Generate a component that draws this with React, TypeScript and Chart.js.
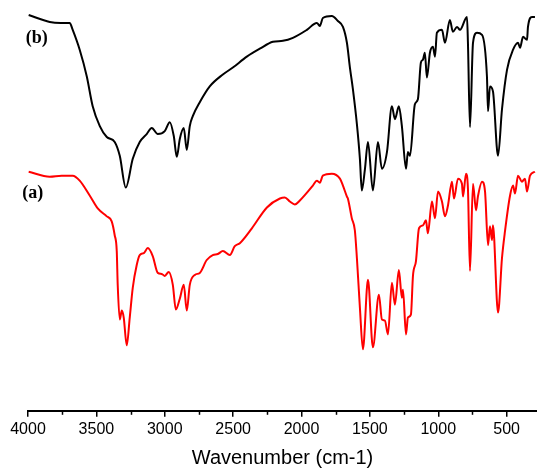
import React, { useEffect, useRef } from "react";
import { Chart, registerables } from "chart.js";

Chart.register(...registerables);

// Spectrum (b) — black
const wavenumbersB = [3995, 3841, 3761, 3695, 3673, 3622, 3570, 3527, 3475, 3424, 3366, 3329, 3285, 3234, 3183, 3132, 3095, 3051, 3000, 2963, 2934, 2912, 2890, 2861, 2839, 2817, 2795, 2744, 2671, 2575, 2502, 2400, 2305, 2209, 2136, 2063, 1961, 1888, 1866, 1844, 1778, 1734, 1697, 1668, 1646, 1624, 1595, 1573, 1559, 1536, 1514, 1478, 1441, 1412, 1375, 1339, 1317, 1288, 1266, 1236, 1222, 1207, 1171, 1149, 1127, 1112, 1098, 1083, 1061, 1039, 1024, 1010, 973, 951, 915, 893, 863, 841, 790, 783, 768, 746, 717, 680, 644, 636, 622, 600, 563, 534, 497, 453, 417, 402, 380, 351, 344, 315, 293];
const transB = [399, 392, 391, 391, 384, 364, 337, 307, 287, 276, 271, 257, 225, 254, 271, 279, 285, 279, 282, 291, 277, 256, 274, 285, 263, 287, 297, 311, 327, 339, 346, 357, 365, 372, 373, 376, 384, 391, 388, 396, 398, 393, 387, 371, 346, 324, 289, 254, 222, 244, 271, 222, 271, 244, 261, 307, 294, 307, 287, 244, 261, 257, 309, 314, 351, 354, 361, 336, 361, 367, 357, 381, 384, 371, 394, 382, 387, 384, 397, 371, 286, 371, 381, 379, 337, 302, 327, 322, 257, 304, 344, 364, 371, 366, 377, 374, 387, 397, 397];

// Spectrum (a) — red
const wavenumbersA = [3995, 3841, 3754, 3673, 3622, 3549, 3490, 3424, 3388, 3366, 3351, 3344, 3329, 3314, 3300, 3278, 3256, 3234, 3205, 3183, 3153, 3124, 3088, 3051, 3022, 3000, 2971, 2941, 2919, 2890, 2861, 2839, 2817, 2780, 2744, 2693, 2649, 2612, 2575, 2524, 2488, 2451, 2363, 2253, 2158, 2122, 2085, 2049, 2012, 1917, 1888, 1866, 1844, 1778, 1719, 1697, 1668, 1661, 1632, 1610, 1595, 1573, 1551, 1514, 1478, 1434, 1412, 1390, 1368, 1339, 1317, 1288, 1266, 1258, 1236, 1222, 1200, 1185, 1163, 1141, 1112, 1090, 1076, 1046, 1024, 1002, 973, 951, 929, 900, 885, 856, 827, 819, 797, 783, 768, 746, 724, 710, 680, 658, 636, 622, 607, 600, 563, 534, 512, 475, 453, 439, 417, 388, 366, 351, 329, 293];
const transA = [241, 236, 237, 237, 232, 217, 204, 196, 191, 177, 161, 127, 92, 101, 94, 66, 94, 124, 147, 157, 159, 164, 156, 139, 138, 136, 140, 127, 102, 113, 127, 101, 127, 137, 139, 152, 157, 158, 161, 157, 166, 169, 184, 205, 214, 215, 211, 208, 212, 227, 232, 230, 237, 239, 234, 227, 216, 214, 194, 182, 154, 104, 62, 132, 64, 117, 92, 91, 77, 129, 107, 142, 114, 122, 77, 94, 97, 136, 151, 184, 187, 192, 179, 211, 194, 221, 211, 196, 207, 231, 214, 234, 229, 216, 239, 224, 141, 229, 202, 216, 231, 221, 167, 186, 172, 187, 99, 154, 181, 217, 227, 219, 237, 231, 234, 221, 237, 241];

const majorTicks = [4000, 3500, 3000, 2500, 2000, 1500, 1000, 500];
const minorTicks = [3750, 3250, 2750, 2250, 1750, 1250, 750];

const curveLabels = ["(b)", "(a)"];
const curveLabelX = [3936, 3966];
const curveLabelY = [375, 219];

const xTitle = "Wavenumber (cm-1)";

export default function App() {
  const ref = useRef<HTMLCanvasElement | null>(null);

  useEffect(() => {
    if (!ref.current) return;
    const minorPlugin = {
      id: "minorTicksAndLabels",
      afterDraw(chart: any) {
        const ctx = chart.ctx;
        const xs = chart.scales.x;
        const ys = chart.scales.y;
        const bottom = chart.chartArea.bottom;
        ctx.save();
        ctx.strokeStyle = "#000";
        ctx.lineWidth = 1.5;
        minorTicks.forEach((v) => {
          const px = Math.round(xs.getPixelForValue(v)) + 0.5;
          ctx.beginPath();
          ctx.moveTo(px, bottom);
          ctx.lineTo(px, bottom + 4);
          ctx.stroke();
        });
        ctx.fillStyle = "#000";
        ctx.font = "bold 18px 'Liberation Serif', 'Times New Roman', serif";
        ctx.textAlign = "center";
        ctx.textBaseline = "middle";
        curveLabels.forEach((t, i) => {
          ctx.fillText(t, xs.getPixelForValue(curveLabelX[i]), ys.getPixelForValue(curveLabelY[i]));
        });
        ctx.restore();
      },
    };

    const chart = new Chart(ref.current, {
      type: "line",
      data: {
        datasets: [
          {
            label: "(b)",
            data: wavenumbersB.map((w, i) => ({ x: w, y: transB[i] })),
            borderColor: "#000000",
            borderWidth: 2,
            pointRadius: 0,
            cubicInterpolationMode: "monotone",
            fill: false,
          },
          {
            label: "(a)",
            data: wavenumbersA.map((w, i) => ({ x: w, y: transA[i] })),
            borderColor: "#ff0000",
            borderWidth: 2,
            pointRadius: 0,
            cubicInterpolationMode: "monotone",
            fill: false,
          },
        ],
      },
      options: {
        responsive: false,
        animation: false,
        clip: false as any,
        layout: { padding: { left: 28, right: 0, top: 14, bottom: 0 } },
        plugins: { legend: { display: false }, tooltip: { enabled: false } },
        scales: {
          x: {
            type: "linear",
            reverse: true,
            min: 278,
            max: 4000,
            afterBuildTicks: (axis: any) => {
              axis.ticks = majorTicks.map((v) => ({ value: v }));
            },
            grid: {
              drawOnChartArea: false,
              drawTicks: true,
              tickLength: 6,
              color: "#000",
              lineWidth: 1.5,
            },
            border: { display: true, color: "#000", width: 2 },
            ticks: {
              color: "#000",
              padding: 3,
              maxRotation: 0,
              autoSkip: false,
              font: { family: "'Liberation Sans', Arial, sans-serif", size: 16 },
              callback: (v: any) => String(v),
            },
            title: {
              display: true,
              text: xTitle,
              color: "#000",
              font: { family: "'Liberation Sans', Arial, sans-serif", size: 20 },
              padding: { top: 4, bottom: 4 },
            },
          },
          y: {
            type: "linear",
            display: false,
            min: 0,
            max: 400,
          },
        },
      },
      plugins: [minorPlugin],
    });
    return () => chart.destroy();
  }, []);

  return (
    <div style={{ position: "fixed", left: 0, top: 0, width: 537, height: 474, background: "#fff" }}>
      <canvas ref={ref} width={537} height={474} />
    </div>
  );
}
